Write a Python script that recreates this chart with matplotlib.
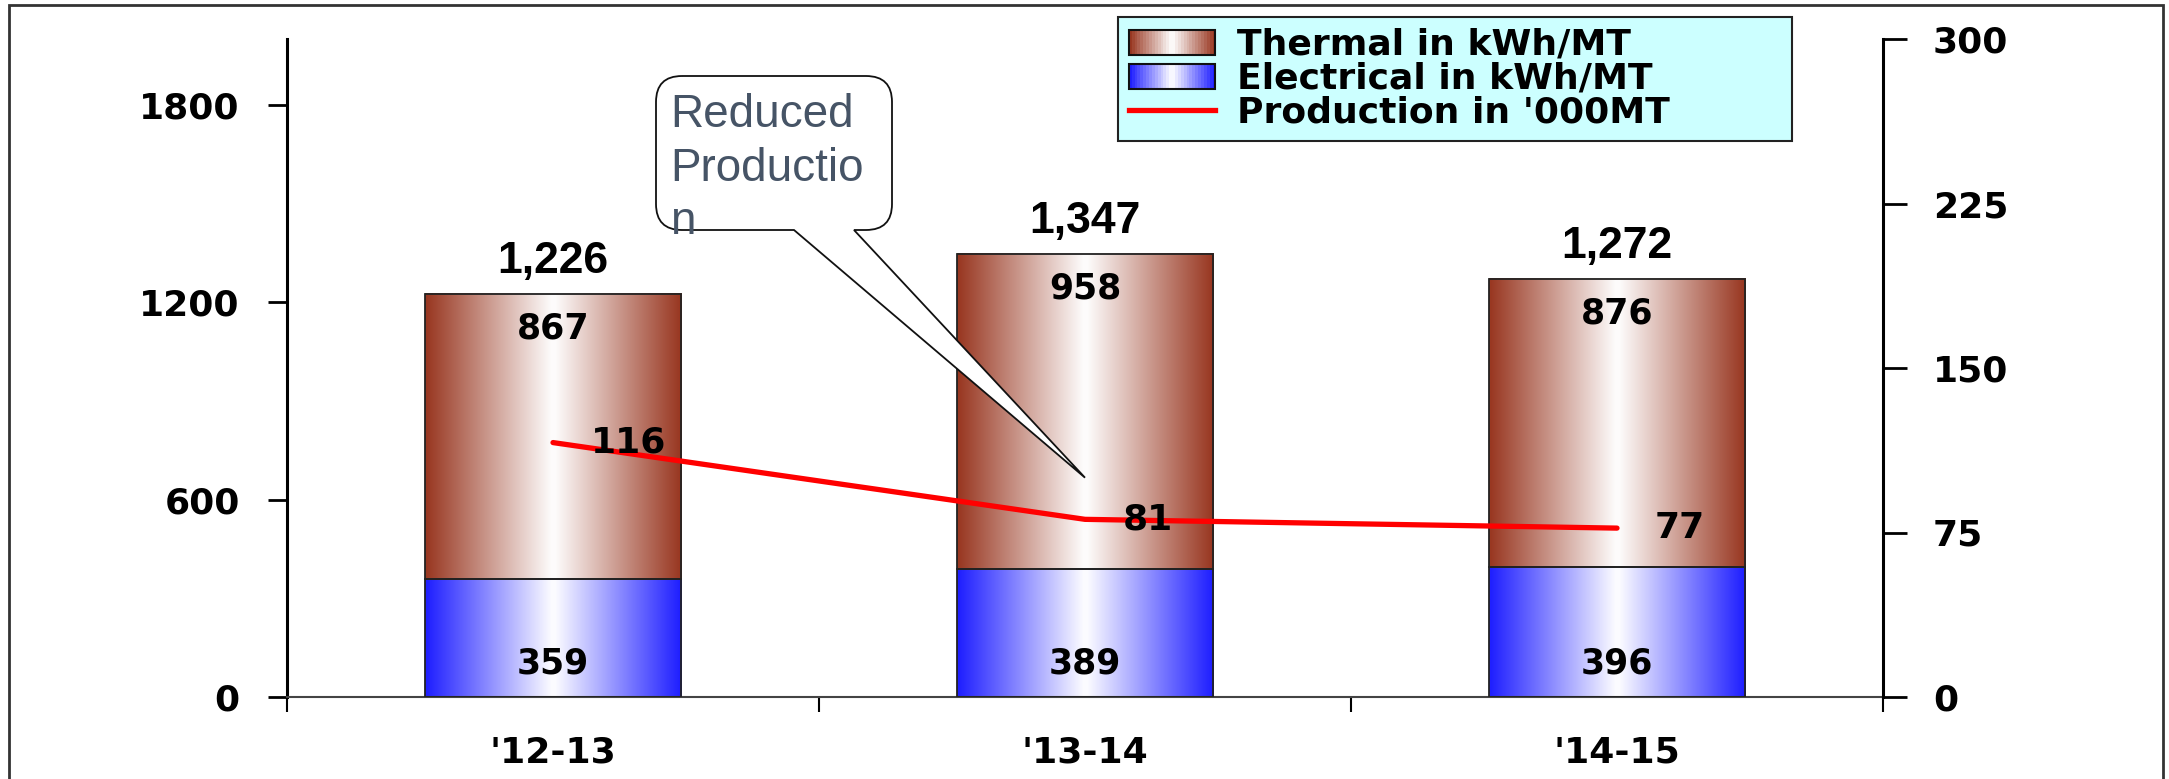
import numpy as np
import matplotlib
matplotlib.use("Agg")
import matplotlib.pyplot as plt
from matplotlib.patches import Rectangle, PathPatch
from matplotlib.path import Path
from matplotlib.lines import Line2D
from matplotlib.legend_handler import HandlerBase
from matplotlib.colors import to_rgb
from matplotlib.transforms import IdentityTransform

# data
years = ["'12-13", "'13-14", "'14-15"]
electrical = [359, 389, 396]
thermal = [867, 958, 876]
production = [116, 81, 77]
left_ticks = [0, 600, 1200, 1800]
right_ticks = [0, 75, 150, 225, 300]
series_names = ["Thermal in kWh/MT", "Electrical in kWh/MT", "Production in '000MT"]

BROWN = "#993822"
BLUE = "#2020ff"
RED = "#ff0000"

plt.rcParams["font.family"] = ["DejaVu Sans"]
plt.rcParams["font.weight"] = "bold"

W, H = 2169, 779


def gradient(edge, n=64):
    t = np.abs(np.linspace(-1, 1, n))
    e = np.array(to_rgb(edge))
    return 1 + (e - 1) * t[:, None]


class GradientHandler(HandlerBase):
    def __init__(self, edge):
        super().__init__()
        self.edge = edge

    def create_artists(self, legend, orig_handle, xdescent, ydescent,
                       width, height, fontsize, trans):
        cols = gradient(self.edge, 30)
        n = len(cols)
        arts = []
        for i, c in enumerate(cols):
            arts.append(Rectangle((-xdescent + width * i / n, -ydescent),
                                  width / n * 1.1, height, facecolor=c,
                                  edgecolor="none", transform=trans))
        arts.append(Rectangle((-xdescent, -ydescent), width, height, fill=False,
                              edgecolor="#111", lw=1.5, transform=trans))
        return arts


fig = plt.figure(figsize=(W / 100, H / 100), dpi=100)
ax = fig.add_axes([287 / W, (H - 697) / H, (1883 - 287) / W, (697 - 39) / H])

x = np.arange(len(years))
bw = 0.483
totals = [e + t for e, t in zip(electrical, thermal)]

el_bars = ax.bar(x, electrical, bw, facecolor="none", edgecolor="#222", lw=1.3, zorder=3)
th_bars = ax.bar(x, thermal, bw, bottom=electrical, facecolor="none",
                 edgecolor="#222", lw=1.3, zorder=3)
for bars, col in ((el_bars, BLUE), (th_bars, BROWN)):
    for p in bars:
        x0, y0 = p.get_x(), p.get_y()
        ax.imshow(gradient(col)[None], extent=(x0, x0 + p.get_width(), y0, y0 + p.get_height()),
                  aspect="auto", interpolation="bilinear", zorder=2)

ax.set_xlim(-0.5, 2.5)
ax.set_ylim(0, 2000)
ax.set_yticks(left_ticks)
ax.tick_params(axis="y", length=14, width=2, pad=20, labelsize=26)
ax.set_xticks(x, years)
ax.tick_params(axis="x", length=0, pad=28, labelsize=26)
ax.set_xticks([-0.5, 0.5, 1.5, 2.5], minor=True)
ax.tick_params(axis="x", which="minor", length=11, width=1.5)
for s in ("top", "right"):
    ax.spines[s].set_visible(False)
ax.spines["left"].set_linewidth(2.2)
ax.spines["bottom"].set_linewidth(1.5)
ax.spines["bottom"].set_color("#444")

for xi, e, t, tot in zip(x, electrical, thermal, totals):
    ax.annotate(f"{tot:,}", (xi, tot), xytext=(0, 23), textcoords="offset points",
                ha="center", va="center", fontsize=32, family="Liberation Sans", weight="bold")
    ax.annotate(str(t), (xi, tot), xytext=(0, -25), textcoords="offset points",
                ha="center", va="center", fontsize=25, zorder=4)
    ax.annotate(str(e), (xi, 0), xytext=(0, 24), textcoords="offset points",
                ha="center", va="center", fontsize=25, zorder=4)

ax2 = ax.twinx()
ax2.set_ylim(0, 300)
ax2.set_yticks(right_ticks)
ax2.tick_params(axis="y", length=17, width=2, pad=19, labelsize=26)
for s in ("top", "left", "bottom"):
    ax2.spines[s].set_visible(False)
ax2.spines["right"].set_linewidth(2.2)

ax2.plot(x, production, color=RED, lw=3.8, solid_capstyle="round", zorder=3)
for xi, v in zip(x, production):
    ax2.annotate(str(v), (xi, v), xytext=(27, 0), textcoords="offset points",
                 ha="left", va="center", fontsize=26, zorder=5)

# legend
th_proxy = Rectangle((0, 0), 1, 1)
el_proxy = Rectangle((0, 0), 1, 1)
ln_proxy = Line2D([], [], color=RED, lw=3.8)
leg = ax2.legend([th_proxy, el_proxy, ln_proxy], series_names,
                 handler_map={th_proxy: GradientHandler(BROWN), el_proxy: GradientHandler(BLUE)},
                 loc="upper left", bbox_to_anchor=(1118 / W, (H - 143) / H, 674 / W, 126 / H),
                 bbox_transform=fig.transFigure, mode="expand", borderaxespad=0,
                 prop={"size": 26, "weight": "bold"}, handlelength=2.4, handletextpad=0.6,
                 labelspacing=0.0, borderpad=0.3, fancybox=False, facecolor="#ccffff",
                 edgecolor="#222", framealpha=1)
leg.get_frame().set_linewidth(1.5)

# callout bubble
bx0, bx1, by0, by1, r = 656, 892, 76, 230, 26
tx0, tx1 = 794, 854
tip = ax2.transData.transform((1, 100))
pts = [(bx0 + r, by0), (bx1 - r, by0), (bx1, by0), (bx1, by0 + r), (bx1, by1 - r),
       (bx1, by1), (bx1 - r, by1), (tx1, by1), None, (tx0, by1), (bx0 + r, by1),
       (bx0, by1), (bx0, by1 - r), (bx0, by0 + r), (bx0, by0), (bx0 + r, by0)]
codes = [Path.MOVETO, Path.LINETO, Path.CURVE3, Path.CURVE3, Path.LINETO,
         Path.CURVE3, Path.CURVE3, Path.LINETO, Path.LINETO, Path.LINETO, Path.LINETO,
         Path.CURVE3, Path.CURVE3, Path.LINETO, Path.CURVE3, Path.CURVE3]
verts = [(tip[0], tip[1]) if p is None else (p[0], H - p[1]) for p in pts]
fig.add_artist(PathPatch(Path(verts, codes), transform=IdentityTransform(),
                         facecolor="white", edgecolor="#111", lw=1.3, zorder=10))
fig.text(670 / W, 1 - 93 / H, "Reduced\nProductio\nn", ha="left", va="top", fontsize=33,
         family="Liberation Sans", weight="normal", color="#465466", linespacing=1.28,
         zorder=11)

# outer frame
fig.add_artist(Rectangle((9, -10), 2154, H - 4.5 + 10, transform=IdentityTransform(),
                         fill=False, edgecolor="#333", lw=2))

fig.savefig("out.png", dpi=100)
